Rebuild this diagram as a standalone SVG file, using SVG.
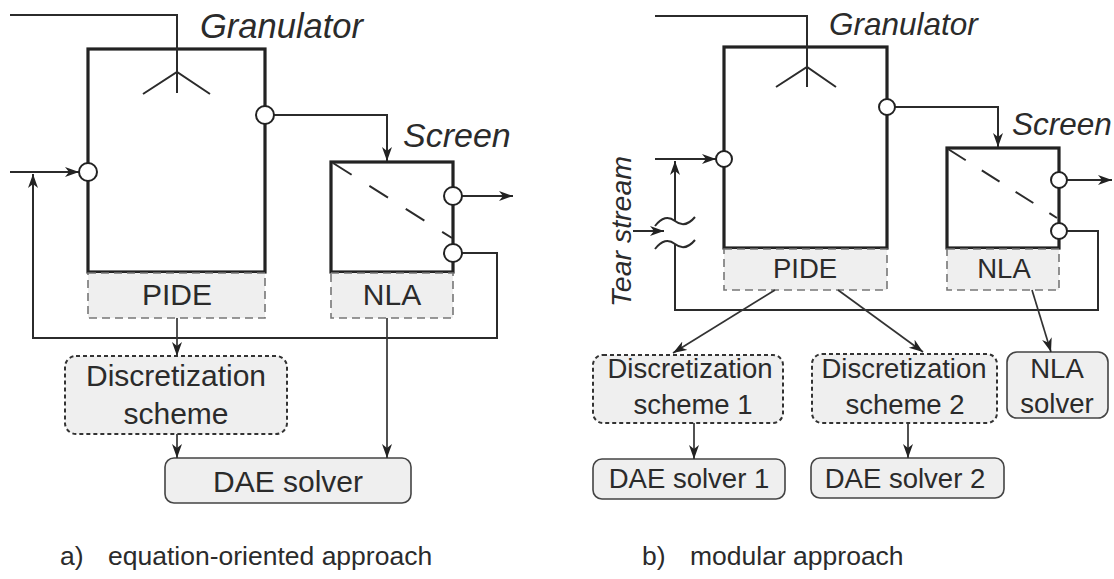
<svg xmlns="http://www.w3.org/2000/svg" width="1114" height="579" viewBox="0 0 1114 579">
<style>
text{font-family:"Liberation Sans",Arial,sans-serif;fill:#2b2b2b}
.it{font-style:italic}
.unit{fill:#fff;stroke:#222;stroke-width:3.2}
.ln{fill:none;stroke:#2b2b2b;stroke-width:2}
.thin{fill:none;stroke:#333;stroke-width:1.7}
.port{fill:#fff;stroke:#222;stroke-width:2}
.model{fill:#efefef;stroke:#777;stroke-width:1.6;stroke-dasharray:8 5}
.disc{fill:#efefef;stroke:#333;stroke-width:2;stroke-dasharray:4 3}
.solver{fill:#efefef;stroke:#444;stroke-width:1.6}
.mesh{fill:none;stroke:#2b2b2b;stroke-width:2}
.L{font-size:30px}
.R{font-size:27.5px}
.cap{font-size:26.5px}
</style>
<defs>
<marker id="ah" markerUnits="userSpaceOnUse" markerWidth="16" markerHeight="12" refX="14" refY="5.5" orient="auto">
<path d="M0,0.5 L14,5.5 L0,10.5 L4,5.5 z" fill="#222"/>
</marker>
</defs>

<!-- ============ a) equation-oriented ============ -->
<g id="a-granulator">
<rect class="unit" x="88" y="49" width="177" height="223"/>
<text class="it" x="200" y="38" font-size="34.5">Granulator</text>
</g>
<g id="a-pide">
<rect class="model" x="88" y="273" width="177" height="45"/>
<text class="L" x="177" y="305" text-anchor="middle">PIDE</text>
</g>
<g id="a-screen">
<rect class="unit" x="331" y="162" width="122" height="110"/>
<line class="mesh" x1="333" y1="163" x2="452" y2="238" stroke-dasharray="22 21"/>
<text class="it" x="403" y="147" font-size="34">Screen</text>
</g>
<g id="a-nla">
<rect class="model" x="331" y="273" width="122" height="45"/>
<text class="L" x="392" y="305" text-anchor="middle">NLA</text>
</g>
<g id="a-disc">
<rect class="disc" x="65" y="356" width="222" height="78" rx="11"/>
<text class="L" x="176" y="386" text-anchor="middle">Discretization</text>
<text class="L" x="176" y="424" text-anchor="middle">scheme</text>
</g>
<g id="a-dae">
<rect class="solver" x="165" y="458" width="246" height="45" rx="9"/>
<text class="L" x="288" y="492" text-anchor="middle">DAE solver</text>
</g>

<g id="a-connectors">
<path class="ln" d="M10,15 H177 V93"/>
<path class="ln" d="M143,94 L177,72 L210,94"/>
<line class="ln" x1="10" y1="172" x2="79" y2="172" marker-end="url(#ah)"/>
<path class="ln" d="M274,115 H387 V161" marker-end="url(#ah)"/>
<line class="ln" x1="462" y1="196" x2="513" y2="196" marker-end="url(#ah)"/>
<path class="ln" d="M462,253 H497 V338 H33 V174" marker-end="url(#ah)"/>
<line class="thin" x1="177" y1="318" x2="177" y2="356" marker-end="url(#ah)"/>
<line class="thin" x1="387" y1="318" x2="387" y2="458" marker-end="url(#ah)"/>
<line class="thin" x1="177" y1="434" x2="177" y2="458" marker-end="url(#ah)"/>
<circle class="port" cx="265" cy="115" r="9"/>
<circle class="port" cx="88" cy="172" r="9"/>
<circle class="port" cx="453" cy="196" r="9"/>
<circle class="port" cx="453" cy="253" r="9"/>
</g>

<!-- ============ b) modular ============ -->
<g id="b-granulator">
<rect class="unit" x="724" y="47" width="163" height="201"/>
<text class="it" x="829" y="35" font-size="31.5">Granulator</text>
</g>
<g id="b-pide">
<rect class="model" x="724" y="249" width="163" height="41"/>
<text class="R" x="805" y="278" text-anchor="middle">PIDE</text>
</g>
<g id="b-screen">
<rect class="unit" x="947" y="148" width="112" height="100"/>
<line class="mesh" x1="948" y1="149" x2="1057" y2="218" stroke-dasharray="21 19"/>
<text class="it" x="1012" y="135" font-size="31.5">Screen</text>
</g>
<g id="b-nla">
<rect class="model" x="947" y="249" width="112" height="41"/>
<text class="R" x="1004" y="278" text-anchor="middle">NLA</text>
</g>
<g id="b-disc1">
<rect class="disc" x="593" y="355" width="190" height="68" rx="10"/>
<text class="R" x="690" y="378" text-anchor="middle">Discretization</text>
<text class="R" x="693" y="414" text-anchor="middle">scheme 1</text>
</g>
<g id="b-disc2">
<rect class="disc" x="812" y="354" width="185" height="69" rx="10"/>
<text class="R" x="904" y="378" text-anchor="middle">Discretization</text>
<text class="R" x="905" y="414" text-anchor="middle">scheme 2</text>
</g>
<g id="b-nlasolver">
<rect class="solver" x="1007" y="352" width="101" height="66" rx="10"/>
<text class="R" x="1057" y="378" text-anchor="middle">NLA</text>
<text class="R" x="1057" y="413" text-anchor="middle">solver</text>
</g>
<g id="b-dae1">
<rect class="solver" x="593" y="459" width="192" height="40" rx="9"/>
<text class="R" x="689" y="488" text-anchor="middle">DAE solver 1</text>
</g>
<g id="b-dae2">
<rect class="solver" x="811" y="458" width="193" height="40" rx="9"/>
<text class="R" x="905" y="488" text-anchor="middle">DAE solver 2</text>
</g>
<g id="b-tear">
<text class="it" font-size="28.5" transform="translate(631,307) rotate(-90)">Tear stream</text>
</g>

<g id="b-connectors">
<path class="ln" d="M655,16 H807 V87"/>
<path class="ln" d="M776,87 L807,67 L836,87"/>
<line class="ln" x1="655" y1="159" x2="716" y2="159" marker-end="url(#ah)"/>
<path class="ln" d="M895,107 H998 V147" marker-end="url(#ah)"/>
<line class="ln" x1="1067" y1="180" x2="1112" y2="180" marker-end="url(#ah)"/>
<path class="ln" d="M1067,231 H1098 V310 H675 V244"/>
<line class="ln" x1="675" y1="221" x2="675" y2="161" marker-end="url(#ah)"/>
<path class="ln" d="M655,226 Q665,213 675,221 T695,217"/>
<path class="ln" d="M655,249 Q665,236 675,244 T695,240"/>
<line class="ln" x1="633" y1="231" x2="664" y2="231" marker-end="url(#ah)"/>
<line class="thin" x1="775" y1="290" x2="673" y2="353" marker-end="url(#ah)"/>
<line class="thin" x1="838" y1="290" x2="923" y2="352" marker-end="url(#ah)"/>
<line class="thin" x1="1032" y1="290" x2="1051" y2="352" marker-end="url(#ah)"/>
<line class="thin" x1="694" y1="423" x2="694" y2="459" marker-end="url(#ah)"/>
<line class="thin" x1="908" y1="423" x2="908" y2="458" marker-end="url(#ah)"/>
<circle class="port" cx="887" cy="107" r="8"/>
<circle class="port" cx="724" cy="159" r="8"/>
<circle class="port" cx="1059" cy="180" r="8"/>
<circle class="port" cx="1059" cy="231" r="8"/>
</g>

<g id="captions">
<text class="cap" x="60" y="565">a)</text>
<text class="cap" x="108" y="565">equation-oriented approach</text>
<text class="cap" x="642" y="565">b)</text>
<text class="cap" x="690" y="565">modular approach</text>
</g>
</svg>
